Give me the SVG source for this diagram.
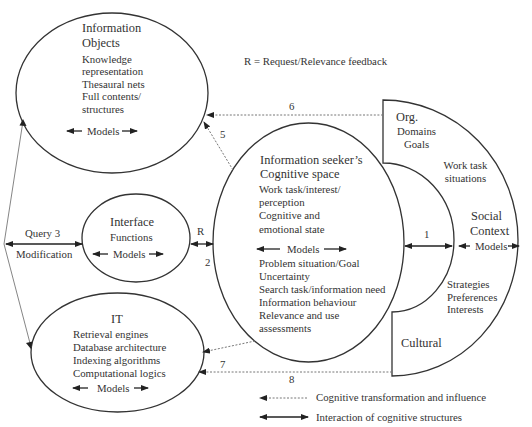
<svg xmlns="http://www.w3.org/2000/svg" width="532" height="427" viewBox="0 0 532 427">
<style>
text{font-family:"Liberation Serif","Times New Roman",serif;fill:#333;font-size:10.8px}
.t{font-size:12.4px}
.sh{fill:none;stroke:#333;stroke-width:1.3}
.dot{fill:none;stroke:#777;stroke-width:1;stroke-dasharray:2,1.6}
.sol{fill:none;stroke:#222;stroke-width:1.3}
.thin{fill:none;stroke:#777;stroke-width:0.9}
.c{text-anchor:middle}
</style>
<defs>
<marker id="a" markerWidth="8" markerHeight="6" refX="7" refY="3" orient="auto-start-reverse" markerUnits="userSpaceOnUse">
<path d="M0,0 L8,3 L0,6 z" fill="#222"/>
</marker>
</defs>
<rect width="532" height="427" fill="#fff"/>

<g id="info-objects">
<ellipse class="sh" cx="112" cy="93" rx="96" ry="80"/>
<text class="t" x="82" y="32">Information</text>
<text class="t" x="82" y="47">Objects</text>
<text x="82" y="63">Knowledge</text>
<text x="82" y="75">representation</text>
<text x="82" y="88">Thesaural nets</text>
<text x="82" y="100">Full contents/</text>
<text x="82" y="113">structures</text>
<text x="87" y="135">Models</text>
<line class="sol" x1="82" y1="131" x2="67" y2="131" marker-end="url(#a)"/>
<line class="sol" x1="122" y1="131" x2="137" y2="131" marker-end="url(#a)"/>
</g>

<g id="interface">
<ellipse class="sh" cx="136" cy="238" rx="54" ry="44"/>
<text class="t" x="110" y="226">Interface</text>
<text x="110" y="241">Functions</text>
<text x="113" y="258">Models</text>
<line class="sol" x1="108" y1="254" x2="93" y2="254" marker-end="url(#a)"/>
<line class="sol" x1="149" y1="254" x2="163" y2="254" marker-end="url(#a)"/>
</g>

<g id="it">
<ellipse class="sh" cx="117.5" cy="352.5" rx="86.5" ry="59.5"/>
<text class="t" x="111" y="323">IT</text>
<text x="73" y="338">Retrieval engines</text>
<text x="73" y="351">Database architecture</text>
<text x="73" y="364">Indexing algorithms</text>
<text x="73" y="377">Computational logics</text>
<text x="97" y="392">Models</text>
<line class="sol" x1="88" y1="388" x2="73" y2="388" marker-end="url(#a)"/>
<line class="sol" x1="134" y1="388" x2="148" y2="388" marker-end="url(#a)"/>
</g>

<g id="cognitive-space">
<ellipse class="sh" cx="308.5" cy="242.5" rx="95.5" ry="119.5"/>
<text class="t" x="260" y="164">Information seeker’s</text>
<text class="t" x="260" y="178">Cognitive space</text>
<text x="259" y="193">Work task/interest/</text>
<text x="259" y="206">perception</text>
<text x="259" y="219">Cognitive and</text>
<text x="259" y="233">emotional state</text>
<text x="287" y="253">Models</text>
<line class="sol" x1="280" y1="249" x2="257" y2="249" marker-end="url(#a)"/>
<line class="sol" x1="324" y1="249" x2="346" y2="249" marker-end="url(#a)"/>
<text x="259" y="267">Problem situation/Goal</text>
<text x="259" y="280">Uncertainty</text>
<text x="259" y="293">Search task/information need</text>
<text x="259" y="306">Information behaviour</text>
<text x="259" y="319">Relevance and use</text>
<text x="259" y="332">assessments</text>
</g>

<g id="social-context">
<path class="sh" d="M383,163 L383,100 A135,140 0 0 1 518,240 A126,136 0 0 1 392,376 L392,312 A62,72 0 0 0 454,240 A71,77 0 0 0 383,163 Z"/>
<text class="t" x="396" y="121">Org.</text>
<text class="c" x="416.5" y="135">Domains</text>
<text class="c" x="416.5" y="148">Goals</text>
<text class="c" x="465.5" y="169">Work task</text>
<text class="c" x="465.5" y="182">situations</text>
<text class="t" x="471" y="220">Social</text>
<text class="t" x="470" y="235">Context</text>
<text x="475" y="250">Models</text>
<line class="sol" x1="470" y1="246" x2="459" y2="246" marker-end="url(#a)"/>
<line class="sol" x1="508" y1="246" x2="519" y2="246" marker-end="url(#a)"/>
<text x="447" y="288">Strategies</text>
<text x="447" y="301">Preferences</text>
<text x="447" y="313">Interests</text>
<text class="t" x="401" y="347">Cultural</text>
</g>

<g id="connectors">
<line class="dot" x1="383" y1="115" x2="207" y2="115" marker-end="url(#a)"/>
<line class="dot" x1="233" y1="170" x2="204" y2="122" marker-end="url(#a)"/>
<line class="dot" x1="255" y1="341" x2="203" y2="352" marker-end="url(#a)"/>
<line class="dot" x1="392" y1="372" x2="199" y2="372" marker-end="url(#a)"/>
<line class="sol" x1="6" y1="244" x2="82" y2="244" marker-start="url(#a)" marker-end="url(#a)"/>
<polyline class="thin" points="23,121 4,244 31,347"/>
<path d="M23,119 L26.5,126 L19.5,125.5 z" fill="#222"/>
<path d="M31,349 L26,343 L32.5,341.5 z" fill="#222"/>
<line class="sol" x1="191" y1="244" x2="213" y2="244" marker-start="url(#a)" marker-end="url(#a)"/>
<line class="sol" x1="405" y1="246" x2="452" y2="246" marker-start="url(#a)" marker-end="url(#a)"/>
<line class="dot" x1="307" y1="398" x2="260" y2="398" marker-end="url(#a)"/>
<line class="sol" x1="260" y1="417" x2="308" y2="417" marker-start="url(#a)" marker-end="url(#a)"/>
</g>

<g id="labels">
<text x="244" y="65">R = Request/Relevance feedback</text>
<text x="289" y="110">6</text>
<text x="220" y="138">5</text>
<text x="220" y="368">7</text>
<text x="289" y="383">8</text>
<text x="424" y="238">1</text>
<text x="197" y="235">R</text>
<text x="205" y="266">2</text>
<text x="25" y="237">Query 3</text>
<text x="16" y="258">Modification</text>
<text x="316" y="401">Cognitive transformation and influence</text>
<text x="316" y="421">Interaction of cognitive structures</text>
</g>
</svg>
